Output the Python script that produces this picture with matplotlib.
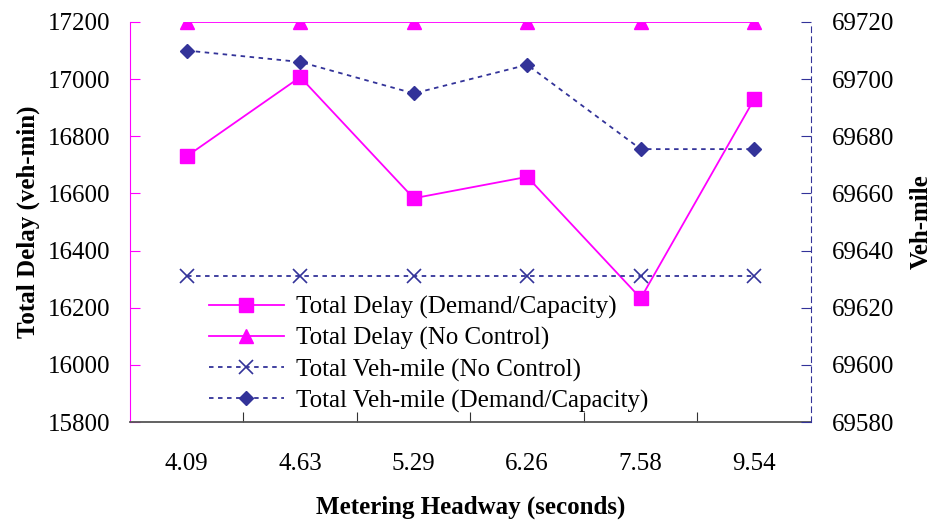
import numpy as np
import matplotlib.pyplot as plt
from matplotlib.ticker import FixedLocator, NullFormatter

headway = ['4.09', '4.63', '5.29', '6.26', '7.58', '9.54']
delay_dc = [16730, 17007, 16583, 16658, 16233, 16930]
delay_nc = [17200, 17200, 17200, 17200, 17200, 17200]
vmile_nc = [69631, 69631, 69631, 69631, 69631, 69631]
vmile_dc = [69710, 69706, 69695, 69705, 69675.5, 69675.5]

MAG = '#FF00FF'
NAVY = '#333399'

plt.rcParams['font.family'] = 'Liberation Serif'
plt.rcParams['font.size'] = 18

fig = plt.figure(figsize=(9.31, 5.23), dpi=100)
ax = fig.add_axes([0.1396, 0.1931, 0.7315, 0.7649])
ax2 = ax.twinx()

x = np.arange(len(headway))

l1, = ax.plot(x, delay_dc, color=MAG, lw=1.3, marker='s', ms=10,
              label='Total Delay (Demand/Capacity)')
l2, = ax.plot(x, delay_nc, color=MAG, lw=1.3, marker='^', ms=10,
              label='Total Delay (No Control)')
l3, = ax2.plot(x, vmile_nc, color=NAVY, lw=1.3, ls=(0, (2.5, 2.5)), marker='x', ms=10,
               mew=1.2, label='Total Veh-mile (No Control)')
l4, = ax2.plot(x, vmile_dc, color=NAVY, lw=1.3, ls=(0, (2.5, 2.5)), marker='D', ms=7,
               label='Total Veh-mile (Demand/Capacity)')

ax.set_xlim(-0.5, 5.5)
ax.set_ylim(15800, 17200)
ax.set_yticks(np.arange(15800, 17201, 200))
ax2.set_ylim(69580, 69720)
ax2.set_yticks(np.arange(69580, 69721, 20))

# category labels centred, ticks on boundaries
ax.xaxis.set_major_locator(FixedLocator(np.arange(0.5, 5.0, 1)))
ax.xaxis.set_major_formatter(NullFormatter())
ax.xaxis.set_minor_locator(FixedLocator(x))
ax.set_xticklabels(headway, minor=True)
ax.tick_params(axis='x', which='major', direction='in', length=7, color='#333333')
ax.tick_params(axis='x', which='minor', length=0, pad=22)

ax.tick_params(axis='y', direction='in', length=7, color=MAG, pad=14)
ax2.tick_params(axis='y', direction='in', length=7, color=NAVY, pad=15)

for a in (ax, ax2):
    for s in a.spines.values():
        s.set_visible(False)
ax.spines['left'].set_visible(True)
ax.spines['left'].set_color(MAG)
ax.spines['bottom'].set_visible(True)
ax.spines['bottom'].set_color('#555555')
ax.spines['bottom'].set_linewidth(1.3)
ax2.spines['right'].set_visible(True)
ax2.spines['right'].set_color(NAVY)
ax2.spines['right'].set_linestyle((0, (5, 4)))

ax.set_xlabel('Metering Headway (seconds)', fontweight='bold', labelpad=15)
ax.set_ylabel('Total Delay (veh-min)', fontweight='bold', labelpad=6)
ax2.set_ylabel('Veh-mile', fontweight='bold', labelpad=11)

ax2.legend(handles=[l1, l2, l3, l4], loc='upper left', bbox_to_anchor=(0.09, 0.358),
           frameon=False, handlelength=3.0, handletextpad=0.5, labelspacing=0.32,
           borderpad=0.2)

fig.savefig('out.png', dpi=100)
